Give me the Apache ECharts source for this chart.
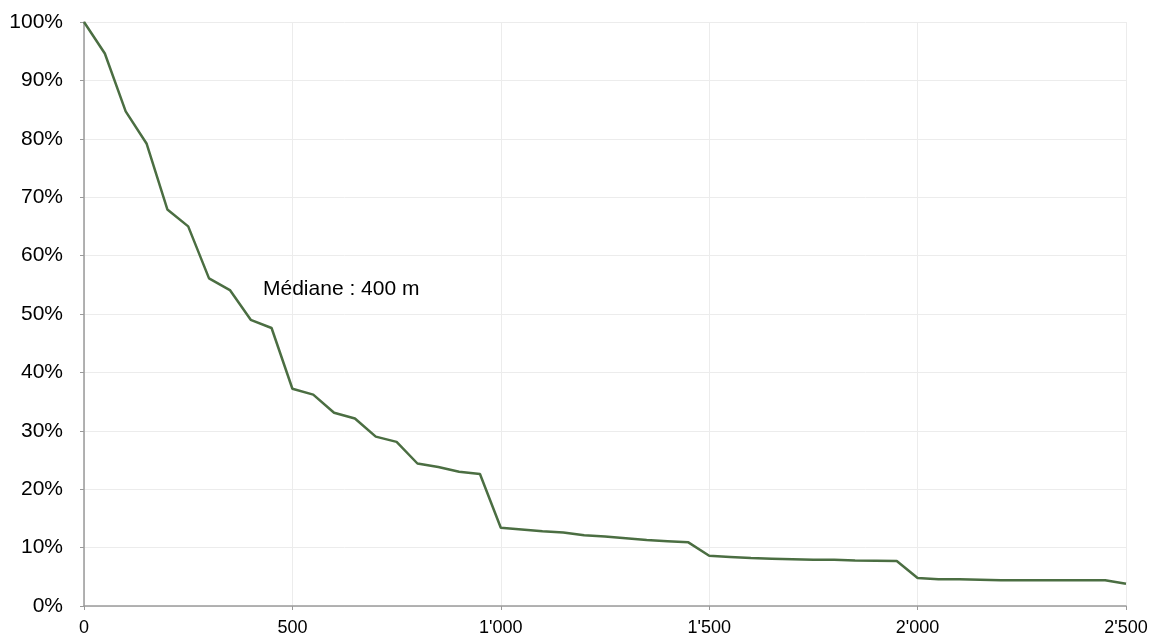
<!DOCTYPE html>
<html>
<head>
<meta charset="utf-8">
<script src="https://cdn.jsdelivr.net/npm/echarts@6/dist/echarts.min.js"></script>
<style>html,body{margin:0;padding:0;background:#fff}#c{width:1157px;height:637px}</style>
</head>
<body>
<div id="c"></div>
<script>
const distances = [0,50,100,150,200,250,300,350,400,450,500,550,600,650,700,750,800,850,900,950,
  1000,1050,1100,1150,1200,1250,1300,1350,1400,1450,1500,1550,1600,1650,1700,1750,1800,1850,1900,1950,
  2000,2050,2100,2150,2200,2250,2300,2350,2400,2450,2500];
const shares = [100,94.6,84.7,79.2,67.9,65.0,56.1,54.1,49.0,47.6,37.2,36.2,33.1,32.1,29.0,28.1,24.4,23.8,23.0,22.6,
  13.4,13.1,12.8,12.6,12.1,11.9,11.6,11.3,11.1,10.9,8.6,8.4,8.2,8.1,8.0,7.9,7.9,7.8,7.75,7.7,
  4.8,4.6,4.6,4.5,4.4,4.4,4.4,4.4,4.4,4.4,3.8];
const medianLabel = 'Médiane : 400 m';

const chart = echarts.init(document.getElementById('c'), null, {renderer: 'canvas'});
const fmtThousands = v => String(v).replace(/\B(?=(\d{3})+(?!\d))/g, "'");
const FONT = 'Liberation Sans, Arial, Helvetica, sans-serif';
chart.setOption({
  animation: false,
  backgroundColor: '#fff',
  grid: {left: 84, right: 31, top: 22, bottom: 30, containLabel: false},
  xAxis: {
    type: 'value', min: 0, max: 2500, interval: 500,
    axisLine: {show: true, lineStyle: {color: '#9a9a9a', width: 1.5}},
    axisTick: {show: true, length: 4, lineStyle: {color: '#9a9a9a'}},
    axisLabel: {color: '#000', fontSize: 18, fontFamily: FONT, margin: 13, formatter: fmtThousands},
    splitLine: {show: true, lineStyle: {color: '#ececec', width: 1}}
  },
  yAxis: {
    type: 'value', min: 0, max: 100, interval: 10,
    axisLine: {show: true, lineStyle: {color: '#9a9a9a', width: 1.5}},
    axisTick: {show: true, length: 4, lineStyle: {color: '#9a9a9a'}},
    axisLabel: {color: '#000', fontSize: 21, fontFamily: FONT, margin: 21, formatter: v => v + '%'},
    splitLine: {show: true, lineStyle: {color: '#ececec', width: 1}}
  },
  series: [{
    type: 'line',
    data: distances.map((d, i) => [d, shares[i]]),
    showSymbol: false,
    lineStyle: {color: '#4b6e42', width: 2.5},
    itemStyle: {color: '#4b6e42'}
  }],
  graphic: [{
    type: 'text', left: 263, top: 279,
    style: {text: medianLabel, fill: '#000', fontSize: 21, fontFamily: FONT}
  }]
});
</script>
</body>
</html>
